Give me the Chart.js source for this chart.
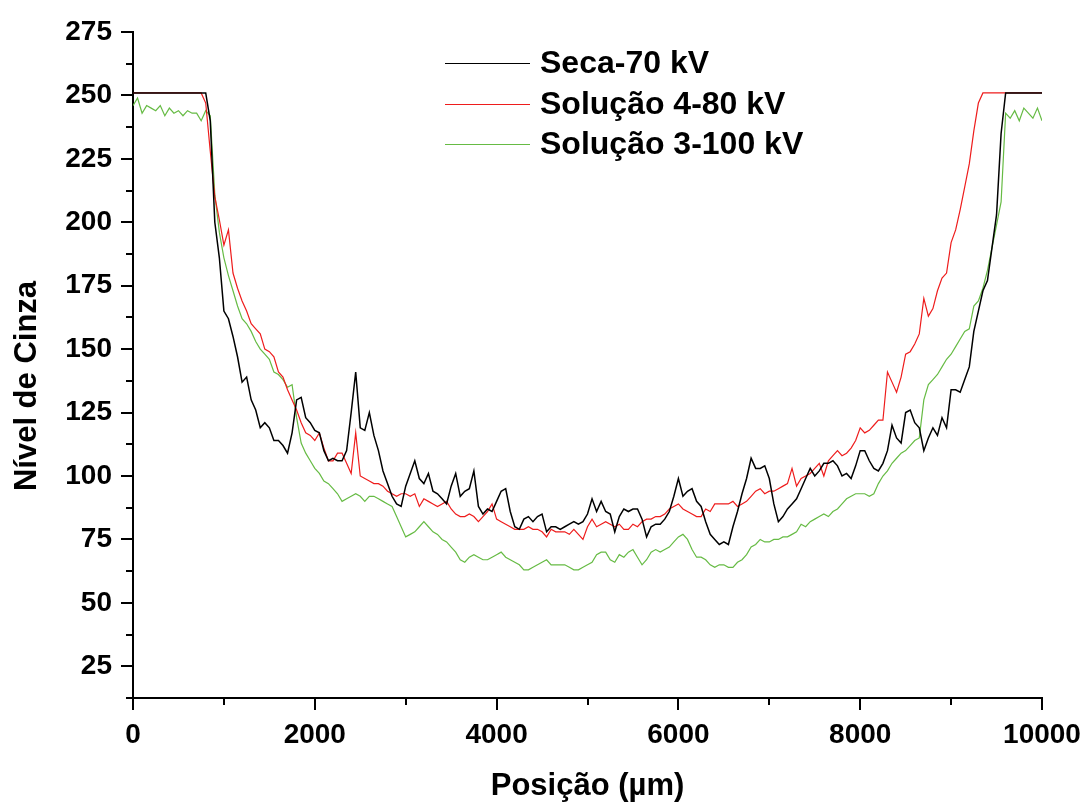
<!DOCTYPE html>
<html>
<head>
<meta charset="utf-8">
<script src="https://cdn.jsdelivr.net/npm/chart.js@4/dist/chart.umd.min.js"></script>
<style>
body { margin: 0; background: #fff; }
#wrap { width: 1086px; height: 805px; }
</style>
</head>
<body>
<div id="wrap"><canvas id="grafico"></canvas></div>
<script>
// posições (um) a cada 50
var posicoes = [
  0,50,100,150,200,250,300,350,400,450,500,550,600,650,700,750,800,850,900,950,
  1000,1050,1100,1150,1200,1250,1300,1350,1400,1450,1500,1550,1600,1650,1700,1750,1800,1850,1900,1950,
  2000,2050,2100,2150,2200,2250,2300,2350,2400,2450,2500,2550,2600,2650,2700,2750,2800,2850,2900,2950,
  3000,3050,3100,3150,3200,3250,3300,3350,3400,3450,3500,3550,3600,3650,3700,3750,3800,3850,3900,3950,
  4000,4050,4100,4150,4200,4250,4300,4350,4400,4450,4500,4550,4600,4650,4700,4750,4800,4850,4900,4950,
  5000,5050,5100,5150,5200,5250,5300,5350,5400,5450,5500,5550,5600,5650,5700,5750,5800,5850,5900,5950,
  6000,6050,6100,6150,6200,6250,6300,6350,6400,6450,6500,6550,6600,6650,6700,6750,6800,6850,6900,6950,
  7000,7050,7100,7150,7200,7250,7300,7350,7400,7450,7500,7550,7600,7650,7700,7750,7800,7850,7900,7950,
  8000,8050,8100,8150,8200,8250,8300,8350,8400,8450,8500,8550,8600,8650,8700,8750,8800,8850,8900,8950,
  9000,9050,9100,9150,9200,9250,9300,9350,9400,9450,9500,9550,9600,9650,9700,9750,9800,9850,9900,9950,
  10000
];

var seca70 = [
  251,251,251,251,251,251,251,251,251,251,251,251,251,251,251,251,251,240,200,186,
  165,162,155,147,137,139,130,126,119,121,119,114,114,112,109,117,130,131,123,121,
  118,117,110,106,107,106,106,110,125,141,119,118,125,116,110,102,97,92,89,88,
  96,101,106,99,97,101,94,93,91,89,96,101,92,94,95,102,88,85,87,86,
  90,94,95,86,80,79,83,84,82,84,85,78,80,80,79,80,81,82,81,82,
  85,91,86,90,86,85,78,84,87,86,87,87,83,76,80,81,81,83,86,92,
  99,92,94,95,90,88,82,77,75,73,74,73,80,86,93,99,107,103,103,104,
  99,89,82,84,87,89,91,95,99,103,100,102,105,105,106,104,100,101,99,104,
  110,110,106,103,102,105,110,120,115,113,125,126,121,119,110,115,119,116,123,119,
  134,134,133,138,143,157,165,173,177,190,203,235,251,251,251,251,251,251,251,251,
  251
];

var solucao4 = [
  251,251,251,251,251,251,251,251,251,251,251,251,251,251,251,251,247,228,210,201,
  191,197,180,174,169,165,160,158,156,150,149,147,141,139,134,130,126,121,117,116,
  114,117,111,106,106,109,109,105,101,117,100,99,98,97,97,96,94,93,92,93,
  93,92,93,88,91,90,89,88,89,90,87,85,84,84,85,84,82,84,86,89,
  83,82,81,80,79,79,79,80,79,79,78,76,79,78,78,78,77,79,77,75,
  80,83,80,81,82,81,80,81,79,79,81,80,82,83,83,84,84,85,87,88,
  89,87,86,85,84,84,87,86,89,89,89,89,90,88,89,90,92,94,95,93,
  94,94,95,96,97,103,96,99,100,101,103,105,100,106,108,110,108,109,111,114,
  119,117,118,120,122,122,141,137,133,139,148,149,152,156,170,163,166,173,178,180,
  192,197,205,214,223,236,247,251,251,251,251,251,251,251,251,251,251,251,251,251,
  251
];

var solucao3 = [
  246,249,243,246,245,244,246,242,245,243,244,242,244,243,243,240,244,242,211,196,
  186,179,173,167,162,160,157,153,150,148,146,141,140,138,135,136,123,113,109,106,
  103,101,98,97,95,93,90,91,92,93,92,90,92,92,91,90,89,88,84,80,
  76,77,78,80,82,80,78,77,75,74,72,70,67,66,68,69,68,67,67,68,
  69,70,68,67,66,65,63,63,64,65,66,67,65,65,65,65,64,63,63,64,
  65,66,69,70,70,67,66,69,68,70,71,68,65,67,70,71,70,71,72,74,
  76,77,75,71,68,68,67,65,64,65,65,64,64,66,67,69,72,73,75,74,
  74,75,75,76,76,77,78,81,80,82,83,84,85,84,86,87,89,91,92,93,
  93,93,92,93,97,100,102,105,107,109,110,112,114,115,130,136,138,140,143,146,
  148,151,154,157,158,167,169,174,181,190,199,208,243,241,244,240,245,243,241,245,
  240
];

var nomes = ['Seca-70 kV', 'Solução 4-80 kV', 'Solução 3-100 kV'];
var cores = ['#000000', '#ee1c1c', '#66bb44'];

function pontos(vals) {
  return posicoes.map(function (p, i) { return { x: p, y: vals[i] }; });
}

var fonte = '"Liberation Sans", Arial, sans-serif';

// marcas dos eixos, legenda e titulo do eixo y
var extras = {
  id: 'extras',
  afterDraw: function (chart) {
    var c = chart.ctx, a = chart.chartArea;
    var sx = chart.scales.x, sy = chart.scales.y;
    c.save();
    c.strokeStyle = '#000';
    c.lineWidth = 2;
    c.beginPath();
    for (var v = 12.5; v <= 275; v += 12.5) {
      var py = Math.round(sy.getPixelForValue(v));
      var len = v % 25 === 0 ? 12 : 7;
      c.moveTo(a.left - len, py);
      c.lineTo(a.left, py);
    }
    for (var x = 0; x <= 10000; x += 1000) {
      var px = Math.round(sx.getPixelForValue(x));
      var l2 = x % 2000 === 0 ? 12 : 7;
      c.moveTo(px, a.bottom);
      c.lineTo(px, a.bottom + l2);
    }
    c.stroke();

    // legenda
    var ys = [63, 104, 144];
    c.font = 'bold 32px ' + fonte;
    c.textBaseline = 'middle';
    c.textAlign = 'left';
    for (var i = 0; i < nomes.length; i++) {
      c.strokeStyle = cores[i];
      c.lineWidth = 1.2;
      c.beginPath();
      c.moveTo(445, ys[i] + 0.5);
      c.lineTo(530, ys[i] + 0.5);
      c.stroke();
      c.fillStyle = '#000';
      c.fillText(nomes[i], 540, ys[i] + 1);
    }

    // titulo do eixo y
    c.translate(27, 386);
    c.rotate(-Math.PI / 2);
    c.textAlign = 'center';
    c.font = 'bold 31px ' + fonte;
    c.fillText('Nível de Cinza', 0, 0);
    c.restore();
  }
};

var ctx = document.getElementById('grafico').getContext('2d');

var grafico = new Chart(ctx, {
  type: 'line',
  data: {
    datasets: [
      { label: nomes[0], data: pontos(seca70), borderColor: cores[0], borderWidth: 1.5 },
      { label: nomes[1], data: pontos(solucao4), borderColor: cores[1], borderWidth: 1.2 },
      { label: nomes[2], data: pontos(solucao3), borderColor: cores[2], borderWidth: 1.2 }
    ]
  },
  options: {
    responsive: true,
    maintainAspectRatio: false,
    animation: false,
    devicePixelRatio: 1,
    layout: { padding: { left: 0, top: 32, right: 44, bottom: 0 } },
    elements: { point: { radius: 0 }, line: { tension: 0, fill: false } },
    plugins: { legend: { display: false }, tooltip: { enabled: false } },
    scales: {
      x: {
        type: 'linear',
        min: 0,
        max: 10000,
        afterFit: function (s) { s.height = 107; s.paddingLeft = 0; s.paddingRight = 0; },
        border: { display: true, color: '#000', width: 2 },
        grid: { display: true, drawOnChartArea: false, drawTicks: false },
        ticks: {
          stepSize: 2000,
          padding: 20,
          color: '#000',
          maxRotation: 0,
          callback: function (v) { return String(v); },
          font: { family: fonte, size: 28, weight: 'bold' }
        },
        title: {
          display: true,
          text: 'Posição (µm)',
          color: '#000',
          padding: { top: 0, bottom: 0 },
          font: { family: fonte, size: 31, weight: 'bold' }
        }
      },
      y: {
        min: 12.5,
        max: 275,
        afterFit: function (s) { s.width = 133; s.paddingTop = 0; s.paddingBottom = 0; },
        border: { display: true, color: '#000', width: 2 },
        grid: { display: true, drawOnChartArea: false, drawTicks: false },
        ticks: {
          stepSize: 25,
          includeBounds: false,
          padding: 21,
          color: '#000',
          font: { family: fonte, size: 28, weight: 'bold' }
        }
      }
    }
  },
  plugins: [extras]
});
</script>
</body>
</html>
